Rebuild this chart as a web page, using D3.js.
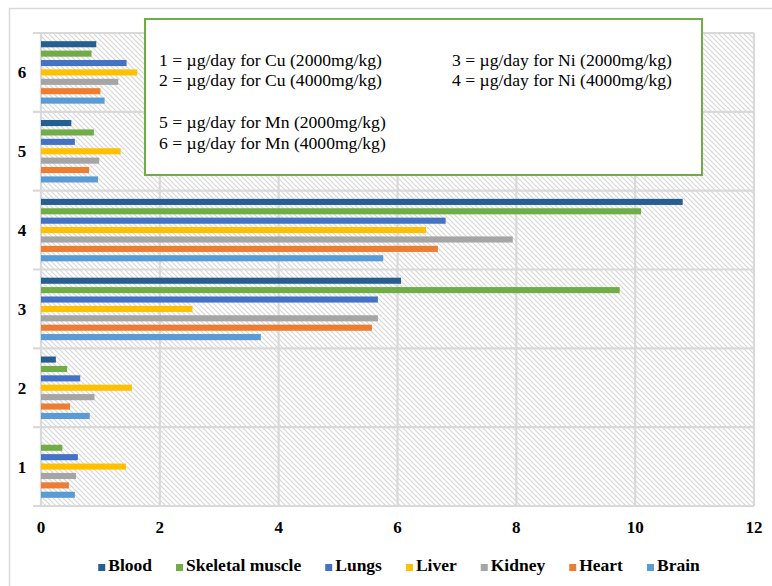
<!DOCTYPE html>
<html>
<head>
<meta charset="utf-8">
<script src="https://cdn.jsdelivr.net/npm/d3@7"></script>
<style>
  html, body { margin: 0; padding: 0; background: #fff; }
  svg { display: block; }
</style>
</head>
<body>
<svg id="chart" width="772" height="586"></svg>
<script>
const categories = ["1", "2", "3", "4", "5", "6"];
const seriesNames = ["Blood", "Skeletal muscle", "Lungs", "Liver", "Kidney", "Heart", "Brain"];
const seriesColors = ["#255E91", "#70AD47", "#4472C4", "#FFC000", "#A5A5A5", "#ED7D31", "#5B9BD5"];

const blood    = [0.00, 0.25, 6.06, 10.80, 0.51, 0.93];
const skeletal = [0.36, 0.44, 9.74, 10.10, 0.89, 0.85];
const lungs    = [0.62, 0.66, 5.67, 6.81, 0.57, 1.44];
const liver    = [1.43, 1.53, 2.55, 6.48, 1.34, 1.62];
const kidney   = [0.59, 0.90, 5.67, 7.94, 0.98, 1.30];
const heart    = [0.47, 0.49, 5.57, 6.68, 0.81, 1.00];
const brain    = [0.57, 0.82, 3.70, 5.76, 0.96, 1.07];

const xTicks = [0, 2, 4, 6, 8, 10, 12];

const noteLeft = [
  "1 = \u00b5g/day for Cu (2000mg/kg)",
  "2 = \u00b5g/day for Cu (4000mg/kg)",
  "",
  "5 = \u00b5g/day for Mn (2000mg/kg)",
  "6 = \u00b5g/day for Mn (4000mg/kg)"
];
const noteRight = [
  "3 = \u00b5g/day for Ni (2000mg/kg)",
  "4 = \u00b5g/day for Ni (4000mg/kg)"
];

const seriesValues = [blood, skeletal, lungs, liver, kidney, heart, brain];

const svg = d3.select("#chart");
const FONT = "'Liberation Serif', serif";

function boldText(sel) {
  return sel.style("font-family", FONT).style("font-weight", "bold").attr("fill", "#000");
}

// chart border
svg.append("path")
  .attr("d", "M9.5,600 L9.5,8.5 L780,8.5")
  .attr("fill", "none").attr("stroke", "#d9d9d9").attr("stroke-width", 1.5);

const plot = { left: 41, right: 754, top: 33, bottom: 506 };

const x = d3.scaleLinear().domain([0, 12]).range([plot.left, plot.right]);
const y = d3.scaleBand().domain(categories.slice().reverse()).range([plot.top, plot.bottom]).padding(0);
const yInner = d3.scaleBand().domain(seriesNames).range([0, y.bandwidth()])
  .paddingInner(0.35).paddingOuter(0.87);

// hatch pattern
const defs = svg.append("defs");
const pat = defs.append("pattern")
  .attr("id", "hatch").attr("patternUnits", "userSpaceOnUse")
  .attr("width", 5).attr("height", 5);
pat.append("rect").attr("width", 5).attr("height", 5).attr("fill", "#fff");
pat.append("path").attr("d", "M-1,-1 L6,6 M-1,4 L1,6 M4,-1 L6,1")
  .attr("stroke", "#d6d6d6").attr("stroke-width", 1.1);

svg.append("rect")
  .attr("x", plot.left).attr("y", plot.top)
  .attr("width", plot.right - plot.left).attr("height", plot.bottom - plot.top)
  .attr("fill", "url(#hatch)");

// gridlines
const grid = svg.append("g").attr("stroke", "#d9d9d9").attr("stroke-width", 2.2);
grid.selectAll("line.v").data(xTicks).join("line")
  .attr("x1", d => x(d)).attr("x2", d => x(d))
  .attr("y1", plot.top).attr("y2", plot.bottom);
const bounds = categories.map(c => y(c)).concat([plot.bottom]);
grid.selectAll("line.h").data(bounds).join("line")
  .attr("x1", plot.left - 8).attr("x2", plot.right)
  .attr("y1", d => d).attr("y2", d => d);

// bars
const barData = [];
seriesNames.forEach((s, si) => {
  categories.forEach((c, ci) => {
    barData.push({ s, c, v: seriesValues[si][ci], color: seriesColors[si] });
  });
});
svg.append("g").selectAll("rect").data(barData).join("rect")
  .attr("x", x(0))
  .attr("y", d => y(d.c) + yInner(d.s))
  .attr("width", d => x(d.v) - x(0))
  .attr("height", yInner.bandwidth())
  .attr("fill", d => d.color);

// y labels
boldText(svg.append("g").selectAll("text").data(categories).join("text")
  .attr("x", 22).attr("y", d => y(d) + y.bandwidth() / 2 + 6)
  .attr("text-anchor", "middle").attr("font-size", 17)
  .text(d => d));

// x labels
boldText(svg.append("g").selectAll("text").data(xTicks).join("text")
  .attr("x", d => x(d)).attr("y", 533)
  .attr("text-anchor", "middle").attr("font-size", 17)
  .text(d => d));

// note box
svg.append("rect")
  .attr("x", 145).attr("y", 19).attr("width", 557).attr("height", 156)
  .attr("fill", "#fff").attr("stroke", "#70AD47").attr("stroke-width", 2);
const lineYs = [66, 86, 107, 128, 149];
svg.append("g").selectAll("text").data(noteLeft).join("text")
  .attr("x", 159).attr("y", (d, i) => lineYs[i])
  .style("font-family", FONT).attr("font-size", 17.6).attr("fill", "#000")
  .text(d => d);
svg.append("g").selectAll("text").data(noteRight).join("text")
  .attr("x", 452).attr("y", (d, i) => lineYs[i])
  .style("font-family", FONT).attr("font-size", 17.6).attr("fill", "#000")
  .text(d => d);

// legend
const legend = svg.append("g");
const items = legend.selectAll("g").data(seriesNames).join("g");
items.append("rect").attr("width", 7).attr("height", 7).attr("y", -7)
  .attr("fill", (d, i) => seriesColors[i]);
boldText(items.append("text").attr("x", 10).attr("y", 0)
  .attr("font-size", 17.5)
  .text(d => d));
let cx = 0;
const offs = [];
const GAP = 24;
items.each(function () {
  const w = d3.select(this).select("text").node().getComputedTextLength();
  offs.push(cx);
  cx += 10 + w + GAP;
});
const total = cx - GAP;
const startX = 399 - total / 2;
items.attr("transform", (d, i) => `translate(${startX + offs[i]},571)`);
</script>
</body>
</html>
